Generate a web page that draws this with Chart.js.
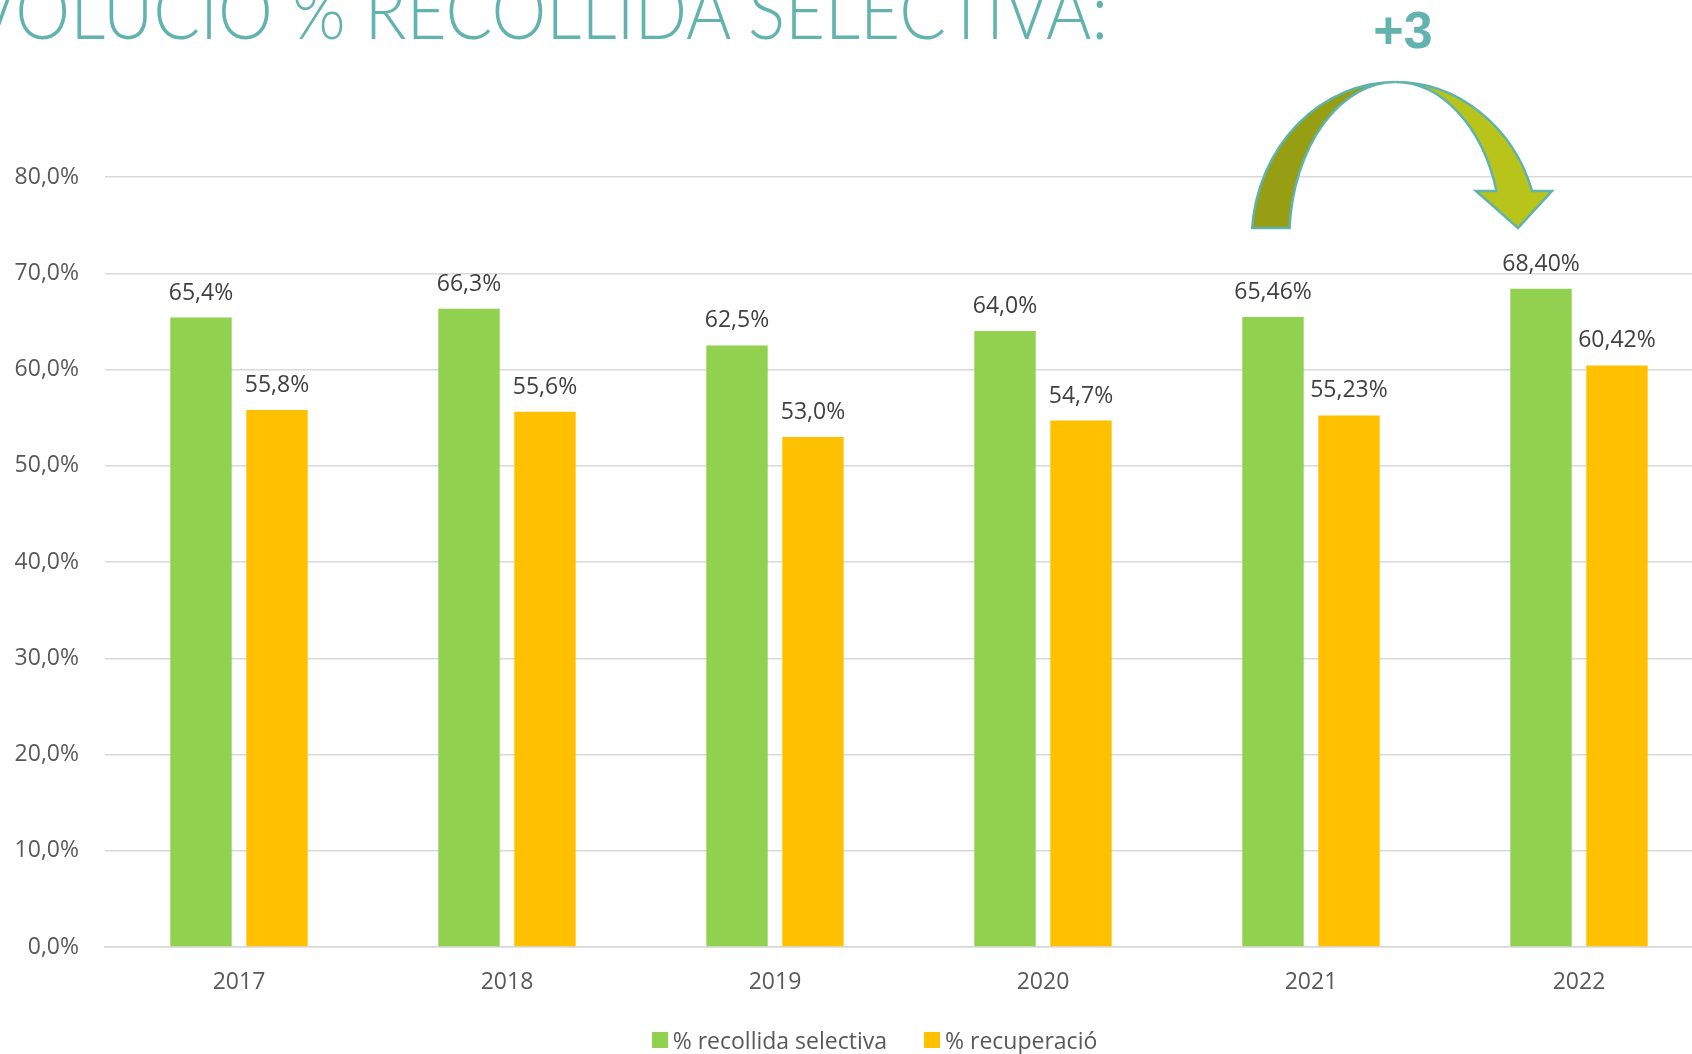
<!DOCTYPE html>
<html>
<head>
<meta charset="utf-8">
<script src="https://cdn.jsdelivr.net/npm/chart.js@4.4.1/dist/chart.umd.min.js"></script>
<style>
  html, body { margin: 0; padding: 0; background: #fff; overflow: hidden; width: 1692px; height: 1054px; }
  #wrap { position: relative; width: 1692px; height: 1054px; overflow: hidden; }
  #myChart { position: absolute; left: 0; top: 0; }
  #titol {
    position: absolute; right: 584px; top: -30px;
    font-family: 'Lato', 'Open Sans', sans-serif; font-weight: 300; font-size: 78px;
    line-height: 1; color: #62b3ad; white-space: nowrap; transform-origin: right center;
  }
  #mes {
    position: absolute; left: 1343px; width: 120px; top: 4px; text-align: center;
    font-family: 'Liberation Sans', Arial, sans-serif; font-weight: bold; font-size: 52px;
    line-height: 1; color: #62b3ad;
  }
  #llegenda {
    position: absolute; left: 0; width: 1749px; top: 1025px; height: 30px;
    display: flex; justify-content: center; align-items: center;
    font-family: 'Open Sans', sans-serif; font-size: 23px; color: #595959; line-height: 30px;
  }
  #llegenda .item { display: flex; align-items: center; }
  #llegenda .item + .item { margin-left: 37px; }
  #llegenda .caixa { width: 16px; height: 16px; margin-right: 5px; }
</style>
</head>
<body>
<div id="wrap">
  <canvas id="myChart" width="1730" height="1054"></canvas>
  <div id="titol">EVOLUCIÓ % RECOLLIDA SELECTIVA:</div>
  <div id="mes">+3</div>
  <div id="llegenda"></div>
</div>
<script>
const anys = ['2017', '2018', '2019', '2020', '2021', '2022'];
const recollidaSelectiva = [65.4, 66.3, 62.5, 64.0, 65.46, 68.40];
const recuperacio = [55.8, 55.6, 53.0, 54.7, 55.23, 60.42];
// decimals que mostra cada etiqueta
const decimals = [1, 1, 1, 1, 2, 2];
const yTicks = [0, 10, 20, 30, 40, 50, 60, 70, 80];
const nomsSeries = ['% recollida selectiva', '% recuperació'];
const colors = ['#92d050', '#ffc000'];

function formatPct(v, d) {
    return v.toFixed(d).replace('.', ',') + '%';
}

// ajustar l'amplada del títol (la E queda fora de la pantalla)
(function() {
    const t = document.getElementById('titol');
    const c = document.createElement('canvas').getContext('2d');
    c.font = "300 78px Lato, 'Open Sans', sans-serif";
    const w = c.measureText('OLUCIÓ % RECOLLIDA SELECTIVA:').width;
    t.style.transform = 'scaleX(' + (1095 / w) + ')';
})();

// etiquetes de valor sobre les barres
const etiquetes = {
    id: 'etiquetes',
    afterDatasetsDraw(chart) {
        const ctx = chart.ctx;
        ctx.save();
        ctx.font = "23px 'Open Sans', sans-serif";
        ctx.fillStyle = '#404040';
        ctx.textAlign = 'center';
        ctx.textBaseline = 'alphabetic';
        chart.data.datasets.forEach((ds, i) => {
            chart.getDatasetMeta(i).data.forEach((bar, j) => {
                ctx.fillText(formatPct(ds.data[j], decimals[j]), bar.x, bar.y - 18);
            });
        });
        ctx.restore();
    }
};

// fletxa corbada de dalt
const fletxa = {
    id: 'fletxa',
    afterDraw(chart) {
        const ctx = chart.ctx;
        const cx = 1395.5, cy = 240, ry = 158, rxOut = 143.7, rxIn = 106.3;
        const aBase = Math.PI + Math.asin(12 / ry);
        const aTop = Math.PI * 1.5;
        const aEnd = Math.PI * 2 - Math.asin(49 / ry);
        ctx.save();
        ctx.lineWidth = 2.5;
        ctx.strokeStyle = '#5fb3ac';

        // part esquerra
        ctx.beginPath();
        ctx.ellipse(cx, cy, rxOut, ry, 0, aBase, aTop, false);
        ctx.ellipse(cx, cy, rxIn, ry, 0, aTop, aBase, true);
        ctx.closePath();
        ctx.fillStyle = '#969e14';
        ctx.fill();
        ctx.stroke();

        // part dreta amb la punta
        ctx.beginPath();
        ctx.ellipse(cx, cy, rxOut, ry, 0, aTop, aEnd, false);
        ctx.lineTo(1552, 191);
        ctx.lineTo(1518, 228);
        ctx.lineTo(1476, 191);
        ctx.ellipse(cx, cy, rxIn, ry, 0, aEnd, aTop, true);
        ctx.closePath();
        ctx.fillStyle = '#b8c41a';
        ctx.fill();
        ctx.stroke();
        ctx.restore();
    }
};

// llegenda
const llegenda = document.getElementById('llegenda');
nomsSeries.forEach((nom, i) => {
    const item = document.createElement('div');
    item.className = 'item';
    item.innerHTML = '<span class="caixa" style="background:' + colors[i] + '"></span><span>' + nom + '</span>';
    llegenda.appendChild(item);
});

Chart.defaults.font.family = "'Open Sans', sans-serif";
Chart.defaults.font.size = 23;
Chart.defaults.color = '#595959';

const ctx = document.getElementById('myChart').getContext('2d');
const myChart = new Chart(ctx, {
    type: 'bar',
    data: {
        labels: anys,
        datasets: [{
            label: nomsSeries[0],
            data: recollidaSelectiva,
            backgroundColor: colors[0],
            barPercentage: 0.808,
            categoryPercentage: 0.567
        }, {
            label: nomsSeries[1],
            data: recuperacio,
            backgroundColor: colors[1],
            barPercentage: 0.808,
            categoryPercentage: 0.567
        }]
    },
    options: {
        responsive: false,
        animation: false,
        devicePixelRatio: 1,
        layout: { padding: { top: 177, right: 17, bottom: 57, left: 0 } },
        plugins: {
            legend: { display: false },
            tooltip: { enabled: false },
            title: { display: false }
        },
        scales: {
            x: {
                afterFit(scale) { scale.height = 50; },
                grid: { display: false, drawTicks: false },
                border: { color: '#d9d9d9', width: 1.5 },
                ticks: { padding: 22, color: '#595959' }
            },
            y: {
                min: 0,
                max: 80,
                afterBuildTicks(scale) {
                    scale.ticks = yTicks.map(v => ({ value: v }));
                },
                afterFit(scale) { scale.width = 105; },
                grid: { color: '#d9d9d9', lineWidth: 1.5, drawTicks: false },
                border: { display: false },
                ticks: {
                    padding: 26,
                    color: '#595959',
                    callback: v => formatPct(v, 1)
                }
            }
        }
    },
    plugins: [etiquetes, fletxa]
});
</script>
</body>
</html>
